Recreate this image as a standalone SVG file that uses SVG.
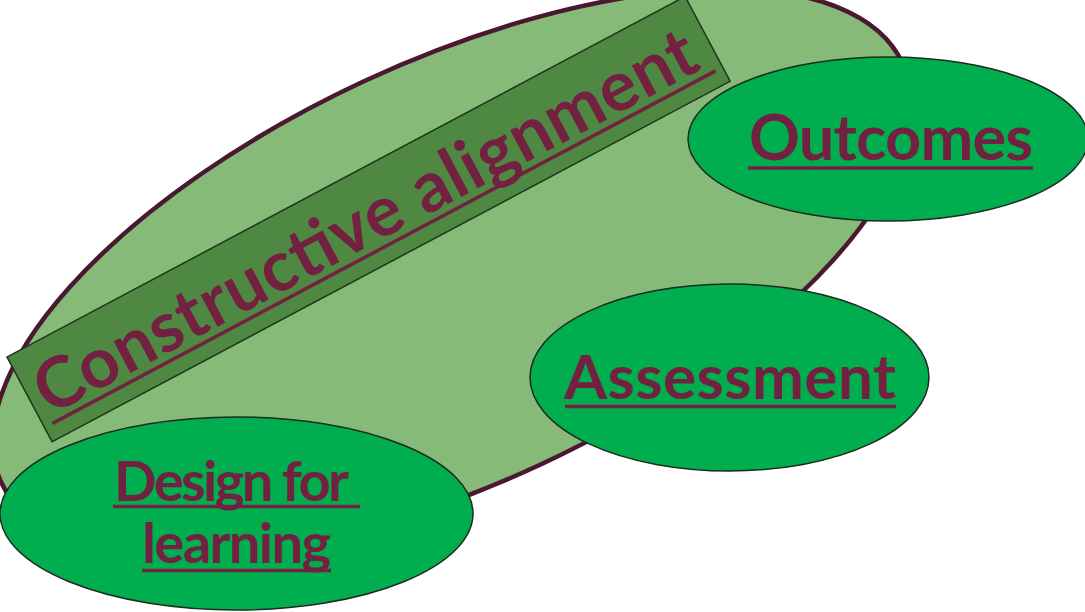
<svg xmlns="http://www.w3.org/2000/svg" width="1085" height="612" viewBox="0 0 1085 612">
  <style>
    .lbl { font-family: Lato, "Open Sans", "Liberation Sans", sans-serif; font-weight: 700; fill: #722240; }
    .ul { stroke: #722240; stroke-width: 3.5; fill: none; }
    .small { fill: #00AE4F; stroke: #1E2A1E; stroke-width: 1.5; }
  </style>
  <rect width="1085" height="612" fill="#FFFFFF"/>
  <g id="big-ellipse">
    <ellipse cx="452" cy="273" rx="497" ry="211" transform="rotate(-25 452 273)" fill="#85BA78" stroke="#4A1830" stroke-width="4.5"/>
  </g>
  <g id="banner" transform="translate(7,357) rotate(-28)">
    <rect x="0" y="0" width="768" height="96" fill="#4F8843" stroke="#223322" stroke-width="1.5"/>
    <text class="lbl" x="10" y="72" font-size="70" textLength="740" lengthAdjust="spacing">Constructive alignment</text>
    <line class="ul" x1="9" y1="80" x2="760" y2="80" stroke-width="3"/>
  </g>
  <g id="connectors"/>
  <g id="outcomes">
    <ellipse class="small" cx="888" cy="139" rx="200" ry="82"/>
    <text class="lbl" x="891" y="160" font-size="63" text-anchor="middle" textLength="284" lengthAdjust="spacing">Outcomes</text>
    <line class="ul" x1="748" y1="168" x2="1033" y2="168" stroke-width="4"/>
  </g>
  <g id="assessment">
    <ellipse class="small" cx="729.5" cy="377.5" rx="199.5" ry="93.5"/>
    <text class="lbl" x="730" y="399" font-size="62" text-anchor="middle" textLength="332" lengthAdjust="spacing">Assessment</text>
    <line class="ul" x1="565" y1="406.5" x2="896" y2="406.5"/>
  </g>
  <g id="design-for-learning">
    <ellipse class="small" cx="236.5" cy="513.5" rx="236.5" ry="96.5"/>
    <text class="lbl" x="114" y="501" font-size="56" textLength="235" lengthAdjust="spacing">Design for</text>
    <line class="ul" x1="113" y1="506.5" x2="360" y2="506.5"/>
    <text class="lbl" x="236.5" y="563" font-size="56" text-anchor="middle" textLength="189" lengthAdjust="spacing">learning</text>
    <line class="ul" x1="142" y1="570.5" x2="331" y2="570.5"/>
  </g>
</svg>
